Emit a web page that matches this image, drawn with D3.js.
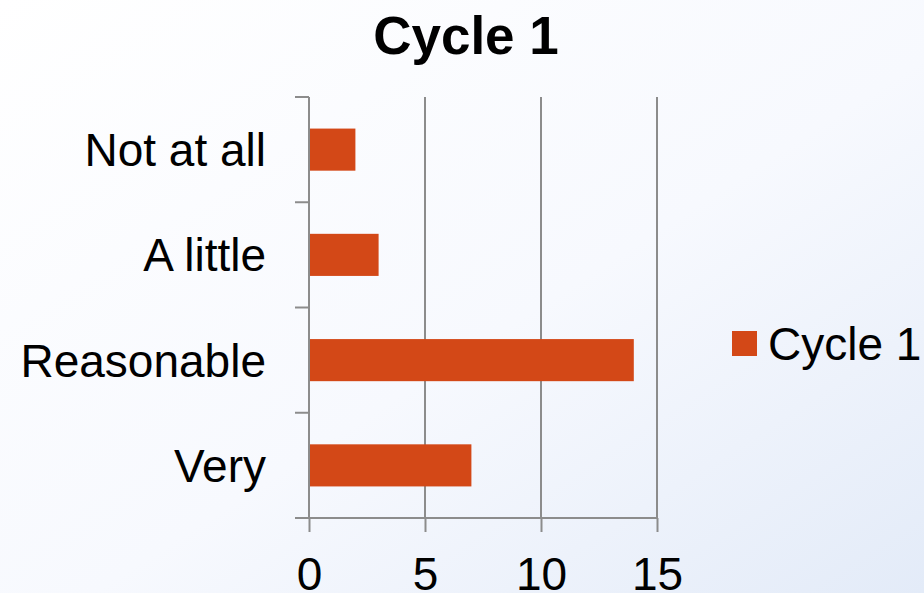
<!DOCTYPE html>
<html>
<head>
<meta charset="utf-8">
<script src="https://cdn.jsdelivr.net/npm/d3@7"></script>
<style>
  html, body { margin: 0; padding: 0; }
  body { width: 924px; height: 593px; overflow: hidden; }
  svg text { font-family: Arial, "Liberation Sans", Helvetica, sans-serif; fill: #000; }
</style>
</head>
<body>
<svg id="chart" width="924" height="593"></svg>
<script>
// Survey answers and counts for the first cycle
const categories = ["Not at all", "A little", "Reasonable", "Very"];
const cycle1 = [2, 3, 14, 7];
const xTicks = [0, 5, 10, 15];
const seriesName = "Cycle 1";
const chartTitle = "Cycle 1";

const W = 924, H = 593;
const plot = { left: 309, right: 657, top: 97, bottom: 518 };
const barColor = "#D34817";
const gridColor = "#8C8C8C";

const svg = d3.select("#chart");

// Soft white-to-blue backdrop
const defs = svg.append("defs");
const grad = defs.append("linearGradient")
  .attr("id", "bg").attr("x1", "0%").attr("y1", "0%").attr("x2", "100%").attr("y2", "100%");
grad.append("stop").attr("offset", "0%").attr("stop-color", "#ffffff");
grad.append("stop").attr("offset", "55%").attr("stop-color", "#f7f9fe");
grad.append("stop").attr("offset", "100%").attr("stop-color", "#e3ebf8");
svg.append("rect").attr("width", W).attr("height", H).attr("fill", "url(#bg)");

const x = d3.scaleLinear().domain([0, 15]).range([plot.left, plot.right]);
const y = d3.scaleBand().domain(categories).range([plot.top, plot.bottom]).paddingInner(0.6).paddingOuter(0.3);
const yEdges = d3.scaleBand().domain(categories).range([plot.top, plot.bottom]).padding(0);

// Vertical gridlines
svg.append("g").selectAll("line")
  .data(xTicks.filter(t => t > 0))
  .join("line")
  .attr("x1", d => x(d)).attr("x2", d => x(d))
  .attr("y1", plot.top).attr("y2", plot.bottom)
  .attr("stroke", gridColor).attr("stroke-width", 2);

// Bars
svg.append("g").selectAll("rect")
  .data(categories.map((c, i) => ({ c, v: cycle1[i] })))
  .join("rect")
  .attr("x", x(0) + 1)
  .attr("y", d => y(d.c))
  .attr("width", d => x(d.v) - x(0) - 1)
  .attr("height", y.bandwidth())
  .attr("fill", barColor);

// Category axis: line plus ticks on band boundaries
const yAxis = svg.append("g");
yAxis.append("line")
  .attr("x1", x(0)).attr("x2", x(0))
  .attr("y1", plot.top).attr("y2", plot.bottom)
  .attr("stroke", gridColor).attr("stroke-width", 2);
const edges = categories.map(c => yEdges(c)).concat([plot.bottom]);
yAxis.selectAll("line.tick")
  .data(edges)
  .join("line").attr("class", "tick")
  .attr("x1", x(0) - 14).attr("x2", x(0))
  .attr("y1", d => d).attr("y2", d => d)
  .attr("stroke", gridColor).attr("stroke-width", 2);
yAxis.selectAll("text")
  .data(categories)
  .join("text")
  .attr("x", 266)
  .attr("y", d => yEdges(d) + yEdges.bandwidth() / 2)
  .attr("dy", "0.36em")
  .attr("text-anchor", "end")
  .attr("font-size", 46)
  .text(d => d);

// Value axis
const xAxis = svg.append("g").attr("transform", `translate(0,${plot.bottom})`)
  .call(d3.axisBottom(x).tickValues(xTicks).tickSize(14).tickSizeOuter(0).tickPadding(25).tickFormat(d3.format("d")));
xAxis.select(".domain").remove();
xAxis.append("line")
  .attr("x1", x(0) - 14).attr("x2", x(15))
  .attr("stroke", gridColor).attr("stroke-width", 2);
xAxis.selectAll(".tick line").attr("stroke", gridColor).attr("stroke-width", 2);
xAxis.selectAll(".tick text")
  .attr("font-size", 46)
  .attr("fill", "#000");

// Title
svg.append("text")
  .attr("x", 466).attr("y", 54)
  .attr("text-anchor", "middle")
  .attr("font-size", 53).attr("font-weight", "bold")
  .text(chartTitle);

// Legend
const legend = svg.append("g").attr("transform", "translate(732,331)");
legend.append("rect").attr("width", 25).attr("height", 25).attr("fill", barColor);
legend.append("text")
  .attr("x", 36).attr("y", 12.5).attr("dy", "0.36em")
  .attr("font-size", 46)
  .text(seriesName);
</script>
</body>
</html>
